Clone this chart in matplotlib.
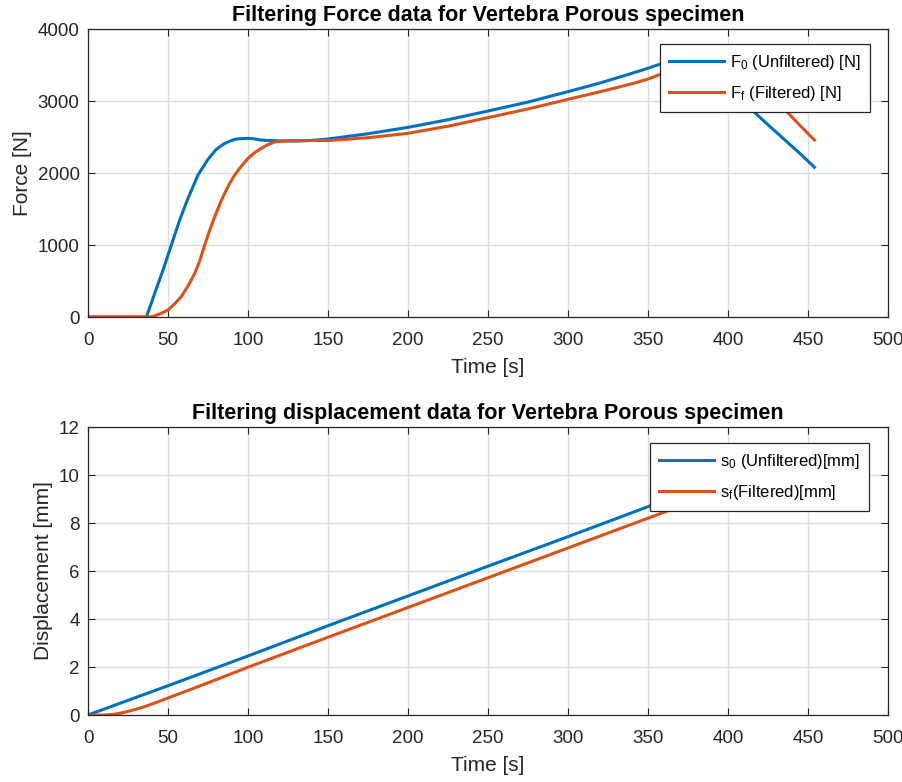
import numpy as np
import matplotlib
matplotlib.use("Agg")
import matplotlib.pyplot as plt

plt.rcParams["font.family"] = ["Liberation Sans", "DejaVu Sans"]
plt.rcParams["mathtext.fontset"] = "custom"
plt.rcParams["mathtext.rm"] = "Liberation Sans"
plt.rcParams["mathtext.it"] = "Liberation Sans"

#
# Data
#
t_F0 = [0, 36.5, 41.7, 46.9, 52.1, 57.3, 62.5, 68.75, 75, 80.2, 85.4, 91.7, 96, 100,
        104, 108, 112, 116.7, 120, 130, 140, 150, 175, 200, 225, 250, 275, 300, 320,
        340, 350, 358, 364, 370, 380, 390, 400, 410, 417, 425, 435, 445, 454]
F0 = [0, 0, 329, 653, 1000, 1347, 1648, 1972, 2190, 2329, 2412, 2468, 2478, 2481,
      2474, 2458, 2452, 2449, 2445, 2444, 2452, 2472, 2545, 2634, 2740, 2861, 2985,
      3130, 3250, 3385, 3455, 3515, 3525, 3520, 3480, 3340, 3170, 2990, 2833, 2670,
      2470, 2270, 2080]

t_Ff = [0, 38, 40.6, 45, 50, 54, 58.3, 62.5, 66.7, 70, 72.9, 76, 79.2, 82.3, 85.4,
        88.5, 91.7, 96, 100, 104, 108.3, 112.5, 116.7, 125, 140, 150, 175, 200, 225,
        250, 275, 300, 325, 340, 350, 360, 370, 380, 390, 400, 410, 420, 430, 437, 445,
        454]
Ff = [0, 0, 8, 45, 97, 180, 282, 430, 606, 790, 1000, 1200, 1394, 1565, 1718, 1855,
      1972, 2100, 2204, 2280, 2343, 2395, 2431, 2449, 2452, 2450, 2490, 2551, 2650,
      2769, 2890, 3023, 3155, 3240, 3305, 3390, 3445, 3480, 3490, 3450, 3340, 3190,
      3010, 2847, 2660, 2458]

t_s0 = [0, 50, 100, 150, 200, 250, 300, 350, 400, 450]
s0 = [0, 1.22, 2.46, 3.72, 4.96, 6.20, 7.43, 8.68, 9.92, 11.16]

t_sf = [0, 5, 10, 15, 20, 25, 30, 35, 40, 45, 50, 60, 80, 100, 150, 200, 250, 300,
        350, 400, 450]
sf = [0, -0.01, 0.0, 0.02, 0.07, 0.15, 0.24, 0.34, 0.46, 0.58, 0.71, 0.96, 1.47, 1.99,
      3.24, 4.48, 5.72, 6.96, 8.20, 9.44, 10.68]

blue = "#0072BD"
orange = "#D95319"
dark = "#262626"


def style_axes(ax):
    ax.grid(True, color="#dcdcdc", linewidth=0.9)
    ax.set_axisbelow(True)
    ax.tick_params(direction="in", length=5, colors=dark, labelsize=13.5,
                   top=True, right=True, labeltop=False, labelright=False)
    ax.tick_params(axis="x", pad=11)
    ax.tick_params(axis="y", pad=6)
    for sp in ax.spines.values():
        sp.set_color(dark)
        sp.set_linewidth(0.9)
    ax.set_xlim(0, 500)
    ax.set_xticks(np.arange(0, 501, 50))


def add_legend(ax, right_px, top_px, bottom_px):
    # anchor the box corner at the pixel position measured on the reference
    leg = ax.legend(loc="upper right",
                    bbox_to_anchor=((right_px - 88) / 800, (bottom_px - top_px) / 288),
                    fontsize=12.0, fancybox=False, framealpha=1,
                    edgecolor=dark, handlelength=3.3, handletextpad=0.35,
                    labelspacing=0.7, borderpad=0.55, borderaxespad=0)
    leg.get_frame().set_linewidth(0.9)
    return leg


fig = plt.figure(figsize=(9.02, 7.82), dpi=100)
ax1 = fig.add_axes([88 / 902, 1 - 317 / 782, 800 / 902, 288 / 782])
ax2 = fig.add_axes([88 / 902, 1 - 715 / 782, 800 / 902, 288 / 782])

#
# Force
#
ax1.plot(t_F0, F0, c=blue, lw=2.2, label=r"F$_{0}$ (Unfiltered) [N]")
ax1.plot(t_Ff, Ff, c=orange, lw=2.2, label=r"F$_{f}$ (Filtered) [N]")
style_axes(ax1)
ax1.set_ylim(0, 4000)
ax1.set_yticks(np.arange(0, 4001, 1000))
ax1.set_xlabel("Time [s]", fontsize=15, color=dark, labelpad=6)
ax1.set_ylabel("Force [N]", fontsize=15, color=dark)
ax1.set_title("Filtering Force data for Vertebra Porous specimen", fontsize=15.5,
              fontweight="bold", pad=6)
add_legend(ax1, 870, 44, 317)

#
# Displacement
#
ax2.plot(t_s0, s0, c=blue, lw=2.2, label=r"s$_{0}$ (Unfiltered)[mm]")
ax2.plot(t_sf, sf, c=orange, lw=2.2, label=r"s$_{f}$(Filtered)[mm]")
style_axes(ax2)
ax2.set_ylim(0, 12)
ax2.set_yticks(np.arange(0, 13, 2))
ax2.set_xlabel("Time [s]", fontsize=15, color=dark, labelpad=6)
ax2.set_ylabel("Displacement [mm]", fontsize=15, color=dark)
ax2.set_title("Filtering displacement data for Vertebra Porous specimen", fontsize=15.5,
              fontweight="bold", pad=6)
add_legend(ax2, 869, 443, 715)

plt.savefig("out.png", dpi=100)
